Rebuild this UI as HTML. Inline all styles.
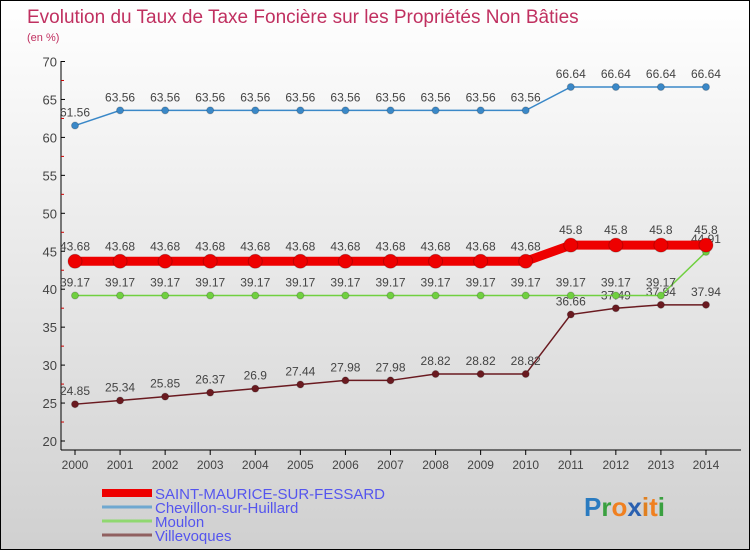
<!DOCTYPE html>
<html><head><meta charset="utf-8"><style>
body{margin:0;width:750px;height:550px;overflow:hidden}
#wrap{position:relative;width:748px;height:548px;border:1px solid #000;background:linear-gradient(#fff,#d0d0d0);font-family:"Liberation Sans",sans-serif}
</style></head><body>
<div id="wrap">
<svg id="c" width="748" height="548"></svg>
</div>
<script>
const years=[2000,2001,2002,2003,2004,2005,2006,2007,2008,2009,2010,2011,2012,2013,2014];
const yTicks=[20,25,30,35,40,45,50,55,60,65,70];
const saint=[43.68,43.68,43.68,43.68,43.68,43.68,43.68,43.68,43.68,43.68,43.68,45.8,45.8,45.8,45.8];
const chevillon=[61.56,63.56,63.56,63.56,63.56,63.56,63.56,63.56,63.56,63.56,63.56,66.64,66.64,66.64,66.64];
const moulon=[39.17,39.17,39.17,39.17,39.17,39.17,39.17,39.17,39.17,39.17,39.17,39.17,39.17,39.17,44.91];
const ville=[24.85,25.34,25.85,26.37,26.9,27.44,27.98,27.98,28.82,28.82,28.82,36.66,37.49,37.94,37.94];
const names=["SAINT-MAURICE-SUR-FESSARD","Chevillon-sur-Huillard","Moulon","Villevoques"];
const NS="http://www.w3.org/2000/svg",svg=document.getElementById('c');
const X=i=>74+i*45.07, Y=v=>440-(v-20)*7.59;
function el(t,a,p){const e=document.createElementNS(NS,t);for(const k in a)e.setAttribute(k,a[k]);(p||svg).appendChild(e);return e;}
function tx(x,y,s,o){const e=el('text',Object.assign({x:x,y:y,'font-size':12,fill:'#444'},o||{}));e.textContent=s;return e;}
let t=tx(26,22,'Evolution du Taux de Taxe Foncière sur les Propriétés Non Bâties',{'font-size':19,fill:'#c03060'});

t=tx(26,40,'(en %)',{'font-size':11,fill:'#c03060'});

let ax=el('line',{x1:60,y1:60,x2:60,y2:449,stroke:'#000'});

ax=el('line',{x1:60,y1:449,x2:740,y2:449,stroke:'#000'});

yTicks.forEach((v,i)=>{el('line',{x1:60,x2:64,y1:Y(v),y2:Y(v),stroke:'#000'});
 if(i<yTicks.length-1)el('line',{x1:60,x2:63,y1:Y(v+2.5),y2:Y(v+2.5),stroke:'#c00'});
 const l=tx(56,Y(v)+5,v,{'text-anchor':'end','font-size':13});
 });
years.forEach((y,i)=>{el('line',{x1:X(i),x2:X(i),y1:449,y2:454,stroke:'#000'});
 const l=tx(X(i),468,y,{'text-anchor':'middle','font-size':12});
 });
function series(d,col,w,r,name,labOff){
 const g=el('g',{});
 el('polyline',{points:d.map((v,i)=>X(i)+','+Y(v)).join(' '),fill:'none',stroke:col,'stroke-width':w},g);
 d.forEach((v,i)=>{const c=el('circle',{cx:X(i),cy:Y(v),r:r,fill:col,stroke:'rgba(0,0,0,0.2)'},g);
  
  tx(X(i),Y(v)-labOff,String(v).replace('.', '.'),{'text-anchor':'middle','font-size':12,fill:'#444'});});
}
series(chevillon,'#3a88c8',1.5,3.5,'chevillon',9);
series(ville,'#6a1a20',1.5,3.5,'villevoques',9);
series(moulon,'#70d040',1.5,3.5,'moulon',9);
series(saint,'#ee0000',9,7,'saint-maurice',11);
const lc=['#ee0000','#6fa8d0','#90d870','#906060'],lw=[8,3,3,3];
names.forEach((n,i)=>{const yy=492+i*14;
 const ln=el('line',{x1:101,x2:151,y1:yy,y2:yy,stroke:lc[i],'stroke-width':lw[i]});
 
 const l=tx(154,yy+6,n,{'font-size':15,fill:'#5555ee'});
 });
const logo=el('text',{x:583,y:515,'font-size':26,'font-weight':'bold'});

[['P','#2a7bc0'],['r','#3aa040'],['o','#f08020'],['x','#2a60b0'],['i','#e08020'],['t','#f08020'],['i','#3aa040']].forEach(([c,f])=>{const s=el('tspan',{fill:f},logo);s.textContent=c;});
</script>
</body></html>
